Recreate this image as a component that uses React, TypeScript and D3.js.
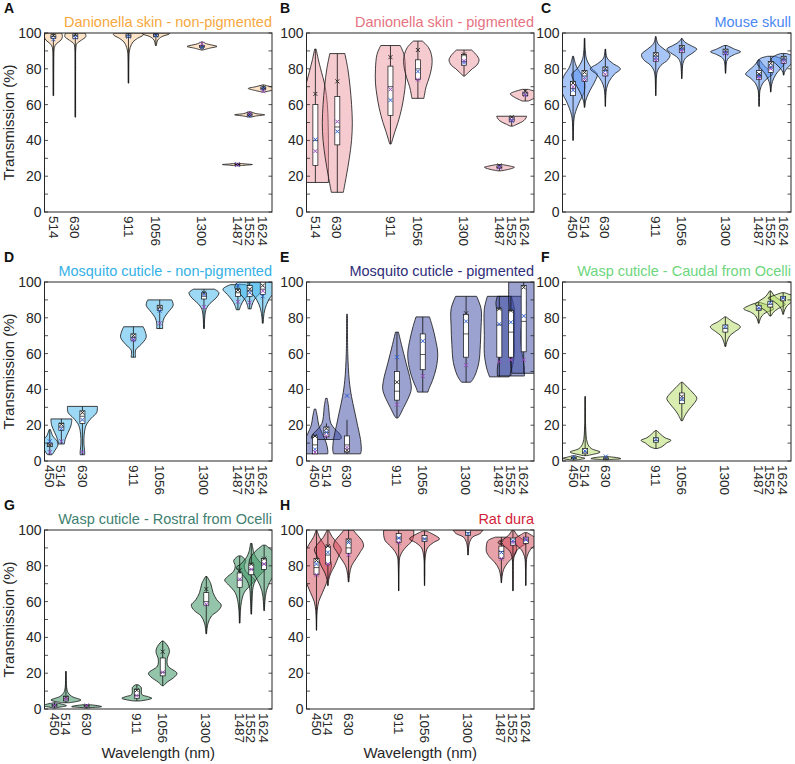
import React from 'react';
import * as d3 from 'd3';

type Violin = { w: number; p: [number, number][]; b: [number, number, number]; m: (number | null)[]; wh?: [number, number] };

const panelLetters = ['A', 'B', 'C', 'D', 'E', 'F', 'G', 'H'];
const panelTitles = [
  'Danionella skin - non-pigmented',
  'Danionella skin - pigmented',
  'Mouse skull',
  'Mosquito cuticle - non-pigmented',
  'Mosquito cuticle - pigmented',
  'Wasp cuticle - Caudal from Ocelli',
  'Wasp cuticle - Rostral from Ocelli',
  'Rat dura',
];
const titleColors = ['#f8a840', '#e6737f', '#4a88f2', '#33b1e6', '#2e2d78', '#6dd67d', '#3f8070', '#d21f3c'];
const fillColors = ['#fbd2a4', '#e88c96', '#508cf0', '#3cb4eb', '#3746a0', '#b4dc64', '#3c9664', '#d24655'];
const fillOpacity = [0.6, 0.45, 0.5, 0.5, 0.5, 0.5, 0.55, 0.5];
const xDomains: [number, number][] = [
  [467, 1670], [467, 1670], [391, 1665],
  [421, 1675], [402, 1682], [387, 1668],
  [394, 1668], [394, 1670],
];
const yTicks = [0, 20, 40, 60, 80, 100];
const yMinorTicks = [0, 10, 20, 30, 40, 50, 60, 70, 80, 90, 100];

const violinsA: Violin[] = [
  { w: 514, p: [[100, 0.55], [98, 0.6], [96, 0.5], [94, 0.2], [92, 0.07], [90, 0.04], [80, 0.025], [65, 0.02]], b: [97, 98, 99], m: [98.5, 96.5, null] },
  { w: 630, p: [[100, 0.65], [98, 0.7], [96, 0.4], [94, 0.1], [92, 0.04], [80, 0.02], [53, 0.02]], b: [97, 98.5, 99.5], m: [99, 97.5, null] },
  { w: 911, p: [[100, 0.95], [99, 1.0], [97, 0.6], [95, 0.3], [92, 0.12], [89, 0.05], [85, 0.03], [72, 0.02]], b: [97.5, 98.5, 99.5], m: [99, 98, null] },
  { w: 1056, p: [[100, 0.9], [99.5, 0.9], [98, 0.4], [96, 0.12], [94, 0.05], [93, 0.03]], b: [98, 99, 99.5], m: [99, 98.5, null] },
  { w: 1300, p: [[95, 0.05], [94, 0.3], [93, 0.8], [92.5, 1.0], [91.5, 0.5], [90.5, 0.05]], b: [92, 92.5, 93], m: [92, 92, 94] },
  { w: 1487, p: [[27.2, 0.05], [26.8, 0.6], [26.5, 1.0], [26.2, 0.6], [25.8, 0.05]], b: [26.3, 26.5, 26.7], m: [26.5, 26.5, 26.5] },
  { w: 1552, p: [[56, 0.05], [55, 0.4], [54.3, 1.0], [53.6, 0.4], [53, 0.05]], b: [54, 54.3, 54.8], m: [54.5, 54, 55] },
  { w: 1624, p: [[71, 0.05], [70, 0.5], [69, 1.0], [68, 0.6], [67, 0.05]], b: [68.5, 69, 69.8], m: [69.5, 69, 67.5] },
];

const violinsB: Violin[] = [
  { w: 514, p: [[91, 0.05], [85, 0.2], [80, 0.35], [70, 0.65], [60, 0.8], [50, 0.85], [40, 0.87], [30, 0.87], [20, 0.87], [16.5, 0.87]], b: [26, 40, 60], m: [66, 40.5, 34] },
  { w: 630, p: [[88.5, 0.5], [80, 0.7], [70, 0.85], [60, 0.95], [50, 1.0], [40, 0.95], [30, 0.8], [20, 0.6], [11, 0.4]], b: [37.5, 47.5, 64.5], m: [73, 45, 50.5] },
  { w: 911, p: [[93, 0.65], [88, 0.9], [80, 1.0], [72, 1.0], [65, 0.9], [58, 0.75], [50, 0.5], [45, 0.3], [38, 0.05]], b: [54, 70, 81.5], m: [86.5, 62.5, 68.5] },
  { w: 1056, p: [[95.5, 0.3], [92, 0.7], [88, 0.9], [84, 0.95], [80, 0.9], [75, 0.75], [70, 0.55], [66, 0.45], [63.5, 0.4]], b: [74, 80, 85], m: [90.5, 78.5, 74] },
  { w: 1300, p: [[90.5, 0.5], [88, 0.8], [85, 1.0], [82, 0.85], [80, 0.55], [78, 0.3], [76, 0.05]], b: [82, 84, 88], m: [88, 83.5, 84.5] },
  { w: 1487, p: [[26.5, 0.2], [25.5, 0.8], [25, 1.0], [24, 0.7], [23, 0.1]], b: [24.5, 25, 25.8], m: [26, 25, 25] },
  { w: 1552, p: [[53.5, 1.0], [52.5, 0.95], [51, 0.8], [50, 0.6], [49, 0.35], [48, 0.1]], b: [50.5, 51.5, 53], m: [53, 51, 51.5] },
  { w: 1624, p: [[68.5, 0.2], [67, 0.8], [66, 1.0], [64, 0.7], [62, 0.2]], b: [65, 66, 67], m: [67.5, 65.5, 65.5] },
];

const violinsC: Violin[] = [
  { w: 450, p: [[87, 0.03], [83, 0.15], [80, 0.3], [77, 0.55], [73, 0.75], [70, 0.8], [66, 0.7], [62, 0.45], [58, 0.25], [54, 0.1], [50, 0.04], [45, 0.02], [40, 0.01]], b: [65, 69, 73], m: [72, 68, 70] },
  { w: 514, p: [[97, 0.02], [90, 0.05], [85, 0.15], [80, 0.5], [77, 0.85], [74, 0.75], [70, 0.5], [66, 0.25], [62, 0.07], [58.5, 0.02]], b: [73, 76, 79], m: [78, 75, 74] },
  { w: 630, p: [[91, 0.02], [86, 0.12], [83, 0.5], [80, 1.0], [77, 0.6], [73, 0.25], [69, 0.08], [65, 0.03], [59, 0.01]], b: [76, 79, 81], m: [80, 79, 77] },
  { w: 911, p: [[98, 0.02], [94, 0.15], [91, 0.55], [88, 0.95], [85, 0.8], [82, 0.35], [79, 0.12], [76, 0.05], [70, 0.02], [65, 0.01]], b: [84, 87, 89], m: [88, 86, 85] },
  { w: 1056, p: [[97, 0.02], [95, 0.2], [93, 0.6], [91, 1.0], [89, 0.75], [86, 0.25], [83, 0.08], [80, 0.04], [74.5, 0.01]], b: [89, 91, 93], m: [92, 91, 90] },
  { w: 1300, p: [[93, 0.1], [91, 0.6], [89.5, 1.0], [88, 0.6], [86, 0.2], [84, 0.07], [80, 0.03], [77.5, 0.01]], b: [88, 89.5, 91], m: [90, 89, 88.5] },
  { w: 1487, p: [[85, 0.05], [82, 0.3], [79, 0.7], [77, 0.9], [75, 0.6], [72, 0.25], [68, 0.06], [64, 0.03], [59, 0.01]], b: [74, 76, 79], m: [77, 76, 75] },
  { w: 1552, p: [[87, 0.2], [85.5, 0.75], [83, 0.9], [80, 0.65], [77, 0.35], [73, 0.12], [70, 0.04], [67, 0.01]], b: [78, 81, 84], m: [83, 81, 80] },
  { w: 1624, p: [[88.5, 0.2], [87, 0.65], [85, 0.85], [83, 0.55], [80, 0.2], [78, 0.05], [76.5, 0.02]], b: [83, 85, 87], m: [86, 85, 84] },
];

const violinsD: Violin[] = [
  { w: 450, p: [[17.5, 0.05], [14, 0.2], [11, 0.5], [9, 0.55], [6, 0.35], [4, 0.2], [3.5, 0.15]], b: [8, 9, 10], m: [9, 11, 5] },
  { w: 514, p: [[23.5, 0.7], [20, 0.65], [16, 0.45], [12, 0.25], [9.5, 0.2]], b: [17, 19, 21], m: [20.5, 18, 11] },
  { w: 630, p: [[30.5, 1.0], [27, 0.95], [24, 0.6], [20, 0.25], [15, 0.12], [10, 0.1], [5, 0.15], [3.5, 0.15]], b: [21, 25, 28], m: [27, 23, 5] },
  { w: 911, p: [[75, 0.65], [72, 0.8], [69, 0.85], [65, 0.5], [62, 0.15], [58, 0.15]], b: [67.5, 69, 71], m: [70, 68, 67.5] },
  { w: 1056, p: [[90, 0.8], [87, 0.9], [83, 0.55], [80, 0.3], [77, 0.2], [74, 0.2]], b: [84, 85.5, 87], m: [86, 84, 77] },
  { w: 1300, p: [[96, 0.7], [94, 1.0], [91, 0.8], [88, 0.4], [85, 0.15], [80, 0.05], [74, 0.03]], b: [90.5, 92, 94], m: [94, 93, 86] },
  { w: 1487, p: [[98.5, 0.5], [96, 1.0], [93, 0.7], [90, 0.4], [87, 0.2], [84.5, 0.1]], b: [92, 94, 96], m: [95.5, 98, 89] },
  { w: 1552, p: [[100, 0.8], [97, 1.0], [93, 0.6], [90, 0.3], [87, 0.15], [85, 0.1]], b: [92, 95, 98], m: [96, 94, 88.5] },
  { w: 1624, p: [[100, 1.0], [96, 0.9], [90, 0.4], [85, 0.15], [80, 0.05], [77, 0.03]], b: [93, 96, 100], m: [98, 92, 95] },
];

const violinsE: Violin[] = [
  { w: 450, p: [[29, 0.05], [25, 0.15], [20, 0.25], [15, 0.5], [10, 0.75], [6, 0.85], [4, 0.85]], b: [4, 9, 14], m: [14, 6.5, 5], wh: [4, 14] },
  { w: 514, p: [[35, 0.05], [30, 0.15], [25, 0.2], [21, 0.3], [18, 0.55], [15, 0.9], [13, 1.0], [12, 0.9]], b: [13.5, 16, 19], m: [18, 16, 14], wh: [12, 21] },
  { w: 630, p: [[82, 0.03], [60, 0.05], [45, 0.15], [36, 0.3], [28, 0.5], [20, 0.7], [12, 0.9], [6, 0.95], [4, 0.9]], b: [5, 9, 14], m: [6, 36.5, 7.5], wh: [4, 23] },
  { w: 911, p: [[72, 0.1], [65, 0.3], [55, 0.6], [45, 0.9], [40, 0.95], [35, 0.75], [30, 0.45], [25, 0.15], [24, 0.05]], b: [34, 39, 50], m: [44, 58, 31.5] },
  { w: 1056, p: [[80.5, 0.45], [75, 0.65], [68, 0.85], [60, 1.0], [52, 0.9], [45, 0.65], [40, 0.4], [38.5, 0.35]], b: [51, 59.5, 71], m: [null, 67, 47.5] },
  { w: 1300, p: [[92, 0.7], [85, 1.0], [75, 1.0], [65, 0.95], [55, 0.85], [48, 0.6], [45, 0.4], [44, 0.3]], b: [58, 71, 82], m: [82.5, 78, 53.5] },
  { w: 1487, p: [[92, 0.8], [85, 1.0], [70, 1.0], [60, 1.0], [52, 0.85], [47, 0.65]], b: [58, 76, 85], m: [85, 76.5, 55.5] },
  { w: 1552, p: [[92, 0.9], [88, 1.0], [80, 0.8], [70, 0.65], [60, 0.75], [52, 0.9], [47.5, 0.9]], b: [58, 72, 84], m: [84, 77.5, 56.5] },
  { w: 1624, p: [[100, 1.0], [90, 1.0], [80, 0.95], [70, 0.9], [60, 0.9], [50, 0.8], [49, 0.8]], b: [61, 78, 98], m: [97, 81, 56.5] },
];

const violinsF: Violin[] = [
  { w: 450, p: [[3, 0.02], [2, 0.5], [1.5, 0.75], [1, 0.5], [0.5, 0.1]], b: [1.2, 1.5, 2], m: [null, 2, null] },
  { w: 514, p: [[36, 0.02], [20, 0.03], [10, 0.15], [7, 0.4], [5, 1.0], [3.5, 0.4], [3, 0.1]], b: [4, 5, 7], m: [null, 5.5, null] },
  { w: 630, p: [[2.5, 0.05], [1.8, 0.8], [1.3, 1.0], [0.9, 0.5], [0.6, 0.05]], b: [1, 1.3, 1.8], m: [null, 2.5, null] },
  { w: 911, p: [[17, 0.05], [15, 0.3], [13, 0.6], [11.5, 1.0], [10, 0.7], [8, 0.4], [7, 0.1]], b: [10.5, 11.5, 13], m: [null, 12, null] },
  { w: 1056, p: [[44, 0.05], [41, 0.4], [38, 0.75], [35, 1.0], [32, 0.8], [29, 0.5], [26, 0.25], [22.5, 0.05]], b: [32, 34, 38], m: [36, 34.5, null] },
  { w: 1300, p: [[80.5, 0.05], [78, 0.45], [75, 1.0], [72, 0.6], [70, 0.3], [67, 0.12], [64, 0.03]], b: [72, 74, 76], m: [null, 75, null] },
  { w: 1487, p: [[88.5, 0.1], [87, 0.6], [85, 1.0], [83, 0.5], [81, 0.2], [78, 0.05], [77, 0.03]], b: [84, 85, 87], m: [null, 85.5, null] },
  { w: 1552, p: [[95, 0.05], [92, 0.3], [89, 0.8], [87.5, 1.0], [85, 0.5], [83, 0.2], [81, 0.05]], b: [86, 87.5, 89], m: [null, 88.5, null] },
  { w: 1624, p: [[94, 0.1], [92.5, 0.6], [91, 1.0], [89, 0.6], [86, 0.2], [83, 0.05], [82, 0.03]], b: [89.5, 91, 92], m: [null, 91, null] },
];

const violinsG: Violin[] = [
  { w: 450, p: [[3.5, 0.05], [2.5, 0.6], [1.8, 0.8], [1, 0.3], [0.5, 0.05]], b: [1.5, 2, 2.5], m: [null, 2, 2] },
  { w: 514, p: [[21, 0.02], [12, 0.05], [9, 0.15], [7, 0.4], [5, 1.0], [4, 0.6], [3.5, 0.2]], b: [4.5, 5.5, 7], m: [6.5, null, 5.5] },
  { w: 630, p: [[2.5, 0.05], [1.8, 0.8], [1.3, 1.0], [0.8, 0.3], [0.5, 0.05]], b: [1, 1.5, 2], m: [null, null, 2] },
  { w: 911, p: [[13.5, 0.1], [12, 0.3], [10, 0.3], [8, 0.35], [7, 0.7], [6, 1.0], [5, 0.6], [4.5, 0.2]], b: [6, 7.5, 11], m: [10.5, null, 7.5] },
  { w: 1056, p: [[38, 0.05], [35, 0.35], [32, 0.45], [28, 0.3], [24, 0.35], [20, 0.95], [18, 0.8], [15, 0.3], [13, 0.05]], b: [18.5, 20.5, 28.5], m: [32, null, 20.5] },
  { w: 1300, p: [[74, 0.05], [70, 0.3], [65, 0.45], [61, 0.7], [58, 1.0], [55, 0.8], [52, 0.35], [48, 0.12], [45, 0.05], [42, 0.02]], b: [58, 60, 65], m: [67, null, 58.5] },
  { w: 1487, p: [[85.5, 0.1], [83, 0.4], [80, 0.3], [77, 0.4], [74, 0.8], [72, 1.0], [69, 0.7], [65, 0.3], [60, 0.12], [55, 0.05], [48, 0.02]], b: [68, 72, 76], m: [77.5, null, 72.5] },
  { w: 1552, p: [[92.5, 0.05], [88, 0.15], [85, 0.3], [81, 0.7], [79, 1.0], [76, 0.7], [72, 0.3], [68, 0.12], [60, 0.05], [53, 0.02]], b: [75, 78, 81], m: [81, null, 78] },
  { w: 1624, p: [[91.5, 0.1], [88, 0.6], [84, 0.95], [81, 1.0], [77, 0.8], [72, 0.45], [66, 0.15], [60, 0.05], [55, 0.02]], b: [78, 81, 84], m: [84, null, 81] },
];

const violinsH: Violin[] = [
  { w: 450, p: [[100, 0.02], [96, 0.2], [92, 0.5], [88, 0.75], [84, 0.9], [80, 1.0], [75, 0.85], [70, 0.65], [65, 0.4], [60, 0.15], [55, 0.05], [50, 0.02], [44, 0.01]], b: [75, 79, 84], m: [83, 81, 75] },
  { w: 514, p: [[100, 0.05], [96, 0.3], [92, 0.7], [89, 0.9], [85, 0.7], [80, 0.45], [76, 0.2], [72, 0.05], [69, 0.02]], b: [81, 86, 91], m: [91, 87.5, 81] },
  { w: 630, p: [[100, 0.3], [97, 0.6], [94, 0.9], [91, 1.0], [88, 0.8], [84, 0.5], [80, 0.2], [76, 0.08], [71, 0.02]], b: [87, 90, 95], m: [94, 93, 86] },
  { w: 911, p: [[100, 1.0], [97, 1.0], [94, 0.9], [91, 0.55], [88, 0.25], [85, 0.08], [80, 0.03], [66, 0.01]], b: [93, 95.5, 98], m: [null, 95.5, 93] },
  { w: 1056, p: [[99.5, 0.1], [97, 0.7], [95, 1.0], [93, 0.6], [90, 0.2], [85, 0.05], [75, 0.02], [69, 0.01]], b: [93.5, 95, 97], m: [null, 95, null] },
  { w: 1300, p: [[100, 1.0], [98, 0.8], [96, 0.3], [93, 0.1], [90, 0.04], [86, 0.01]], b: [97, 98.5, 100], m: [null, 98, null] },
  { w: 1487, p: [[96, 0.4], [94, 0.9], [91, 1.0], [88, 1.0], [85, 0.8], [82, 0.45], [78, 0.15], [74, 0.05], [70.5, 0.01]], b: [84, 88, 91], m: [93, 87.5, 84] },
  { w: 1552, p: [[100, 0.05], [97, 0.3], [95, 0.6], [93, 1.0], [91, 0.6], [88, 0.2], [84, 0.05], [75, 0.02], [66, 0.01]], b: [91.5, 93.5, 95.5], m: [null, 94, 93] },
  { w: 1624, p: [[98.5, 0.1], [96, 0.6], [94, 1.0], [92, 0.7], [89, 0.3], [85, 0.08], [78, 0.02], [69, 0.01]], b: [92.5, 94.5, 96], m: [null, 94.5, 95] },
];

const panelViolins = [violinsA, violinsB, violinsC, violinsD, violinsE, violinsF, violinsG, violinsH];

const W = 795;
const H = 764;
const colLeft = [44.5, 306.5, 562.5];
const colRight = [272, 534, 791];
const rowTop = [33, 282, 530];
const rowBottom = [212, 461, 709];
const HALF = 15;
const FONT = "'Liberation Sans', Arial, Helvetica, sans-serif";
const markerColors = ['#2b2b2b', '#2f5fd0', '#9a4cc0'];

function Panel({ idx }: { idx: number }) {
  const col = idx % 3;
  const row = Math.floor(idx / 3);
  const x0 = colLeft[col], x1 = colRight[col];
  const y0 = rowTop[row], y1 = rowBottom[row];
  const x = d3.scaleLinear().domain(xDomains[idx]).range([x0, x1]);
  const y = d3.scaleLinear().domain([0, 100]).range([y1, y0]);
  const violins = panelViolins[idx];
  const clipId = `clip${idx}`;
  const area = (cx: number) =>
    d3.area<[number, number]>()
      .y((d) => y(d[0]))
      .x0((d) => cx - d[1] * HALF)
      .x1((d) => cx + d[1] * HALF)
      .curve(d3.curveCatmullRom.alpha(0.5));
  const xm = (cx: number, cy: number, s = 2) => `M${cx - s},${cy - s}L${cx + s},${cy + s}M${cx - s},${cy + s}L${cx + s},${cy - s}`;
  return (
    <g>
      <defs>
        <clipPath id={clipId}>
          <rect x={x0} y={y0} width={x1 - x0} height={y1 - y0} />
        </clipPath>
      </defs>
      <g clipPath={`url(#${clipId})`}>
        {violins.map((v, i) => {
          const cx = x(v.w);
          return (
            <path key={'v' + i} d={area(cx)(v.p) || ''} fill={fillColors[idx]} fillOpacity={fillOpacity[idx]} stroke="#111" strokeWidth={0.8} />
          );
        })}
        {violins.map((v, i) => {
          const cx = x(v.w);
          const vals = v.p.map((d) => d[0]);
          const lo = v.wh ? v.wh[0] : (d3.min(vals) as number);
          const hi = v.wh ? v.wh[1] : (d3.max(vals) as number);
          const bw = 2.5;
          return (
            <g key={'b' + i}>
              <line x1={cx} x2={cx} y1={y(lo)} y2={y(hi)} stroke="#111" strokeWidth={0.8} />
              <rect x={cx - bw} y={y(v.b[2])} width={bw * 2} height={Math.max(0.5, y(v.b[0]) - y(v.b[2]))} fill="#fff" stroke="#111" strokeWidth={0.7} />
              <line x1={cx - bw} x2={cx + bw} y1={y(v.b[1])} y2={y(v.b[1])} stroke="#111" strokeWidth={0.7} />
              {v.m.map((mv, k) => (mv == null ? null : (
                <path key={k} d={xm(cx, y(mv))} stroke={markerColors[k]} strokeWidth={1} fill="none" />
              )))}
            </g>
          );
        })}
      </g>
      <rect x={x0} y={y0} width={x1 - x0} height={y1 - y0} fill="none" stroke="#262626" strokeWidth={1} />
      {yMinorTicks.map((t) => (
        <g key={'t' + t}>
          <line x1={x0} x2={x0 + 3.5} y1={y(t)} y2={y(t)} stroke="#262626" strokeWidth={0.8} />
          <line x1={x1} x2={x1 - 3.5} y1={y(t)} y2={y(t)} stroke="#262626" strokeWidth={0.8} />
        </g>
      ))}
      {yTicks.map((t) => (
        <text key={'l' + t} x={x0 - 3} y={y(t)} dy="0.36em" textAnchor="end" fontSize={14} fill="#262626" fontFamily={FONT}>{t}</text>
      ))}
      {violins.map((v, i) => (
        <text key={'xl' + i} transform={`translate(${x(v.w)},${y1 + 4}) rotate(90)`} dy="0.36em" textAnchor="start" fontSize={13.5} fill="#262626" fontFamily={FONT}>{v.w}</text>
      ))}
      <text x={x1} y={y0 - 6} textAnchor="end" fontSize={14.5} fill={titleColors[idx]} fontFamily={FONT}>{panelTitles[idx]}</text>
      <text x={col === 0 ? 4 : col === 1 ? 280 : 541} y={y0 - 20} fontSize={14} fontWeight="bold" fill="#111" fontFamily={FONT}>{panelLetters[idx]}</text>
      {col === 0 && (
        <text transform={`translate(14,${(y0 + y1) / 2}) rotate(-90)`} textAnchor="middle" fontSize={15} fill="#262626" fontFamily={FONT}>Transmission (%)</text>
      )}
      {row === 2 && (
        <text x={(x0 + x1) / 2} y={758} textAnchor="middle" fontSize={15} fill="#262626" fontFamily={FONT}>Wavelength (nm)</text>
      )}
    </g>
  );
}

export default function App() {
  return (
    <svg width={W} height={H} style={{ position: 'absolute', left: 0, top: 0, background: '#fff' }}>
      <rect width={W} height={H} fill="#fff" />
      {panelLetters.map((_, i) => (
        <Panel key={i} idx={i} />
      ))}
    </svg>
  );
}
